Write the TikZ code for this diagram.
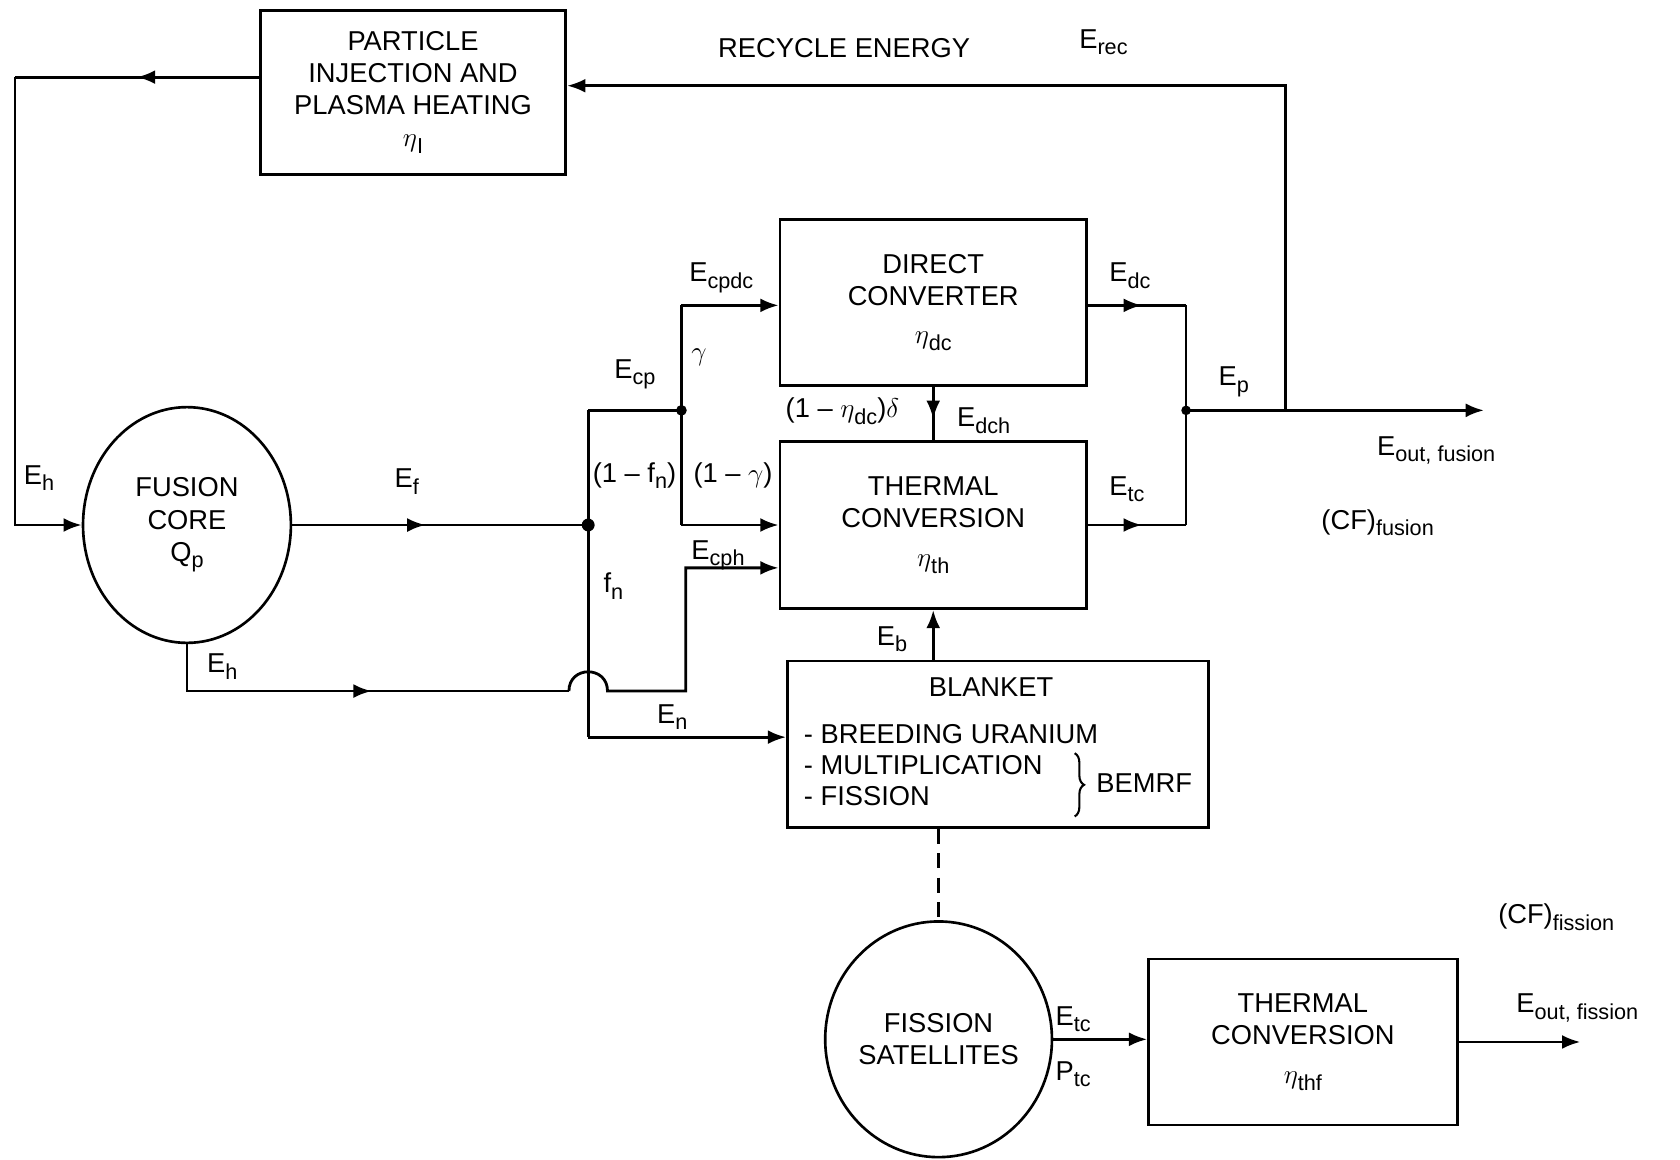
\documentclass[tikz,border=0pt]{standalone}
\usepackage{fontspec}
\setmainfont{Liberation Sans}
\usetikzlibrary{shapes.geometric,arrows.meta,decorations.markings,decorations.pathreplacing}
\newcommand\lsub[1]{\raisebox{-3.5pt}{\fontsize{11.5}{12}\selectfont #1}}
\begin{document}
\begin{tikzpicture}[x=0.2mm,y=-0.2mm,
  every node/.style={font=\fontsize{14.5}{17}\selectfont, inner sep=0pt},
  ln/.style={line width=1.5pt},
  box/.style={draw, line width=1.5pt, rectangle, align=center},
  ell/.style={draw, line width=1.4pt, ellipse, align=center},
  lab/.style={anchor=base west},
  tip/.style={-{Latex[length=3.4mm,width=2.6mm]}},
  marr/.style={postaction={decorate},decoration={markings,mark=at position #1 with {\arrow{Latex[length=3.4mm,width=2.6mm]}}}}
]
\useasboundingbox (0,0) rectangle (1568,1082);
\fill[white] (0,0) rectangle (1568,1082);

% boxes
\node[box, minimum width=57mm, minimum height=30.6mm] (pih) at (385.5,86.5) {PARTICLE\\INJECTION AND\\PLASMA HEATING\\$\eta$\lsub{I}};
\node[ell, minimum width=38.8mm, minimum height=44mm] (fc) at (174.5,490) {FUSION\\CORE\\Q\lsub{p}};
\node[box, minimum width=57.2mm, minimum height=31mm] (dc) at (871,282.5) {DIRECT\\CONVERTER\\[3pt]$\eta$\lsub{dc}};
\node[box, minimum width=57.2mm, minimum height=31.2mm] (tc) at (871,490) {THERMAL\\CONVERSION\\[4pt]$\eta$\lsub{th}};
\node[box, minimum width=78.6mm, minimum height=31mm] (bl) at (931.5,694.5) {};
\node (blt) at (925,641) {BLANKET};
\node[anchor=west] (bl1) at (750,685) {- BREEDING URANIUM};
\node[anchor=west] (bl2) at (750,714) {- MULTIPLICATION};
\node[anchor=west] (bl3) at (750,743) {- FISSION};
\draw[decorate, decoration={brace,amplitude=5pt}, line width=1.1pt] (1003,703) -- (1003,762);
\node[lab] (bemrf) at (1023,740) {BEMRF};
\node[ell, minimum width=36.8mm, minimum height=44mm] (fs) at (876,970) {FISSION\\SATELLITES};
\node[box, minimum width=57.6mm, minimum height=31mm] (tc2) at (1216,972.5) {THERMAL\\CONVERSION\\[4pt]$\eta$\lsub{thf}};

% coordinates
\coordinate (lt) at (14,72);
\coordinate (lb) at (14,490);
\coordinate (rt) at (1200,80);
\coordinate (rb) at (1200,383);
\coordinate (j1) at (549,490);
\coordinate (j1t) at (549,383);
\coordinate (j1b) at (549,688);
\coordinate (j2) at (636,383);
\coordinate (j2t) at (636,285);
\coordinate (j2b) at (636,490);
\coordinate (ehc) at (174.5,645);
\coordinate (hop1) at (531,645);
\coordinate (hop2) at (567,645);
\coordinate (ehr) at (640,645);
\coordinate (ehu) at (640,530);
\coordinate (rj1) at (1107,285);
\coordinate (rj) at (1107,383);
\coordinate (rj2) at (1107,490);
\coordinate (eo1) at (1385,383);
\coordinate (eo2) at (1475,972.5);

% connectors
\draw[ln,tip] (rb) -- (rt) -- (rt -| pih.east);
\draw[ln,marr=0.5] (lt -| pih.west) -- (lt);
\draw[ln,tip] (lt) -- (lb) -- (fc.west);
\draw[ln,marr=0.45] (fc.east) -- (j1);
\draw[ln] (j1t) -- (j1b);
\draw[ln] (j1t) -- (j2);
\draw[ln] (j2t) -- (j2b);
\draw[ln,tip] (j2t) -- (j2t -| dc.west);
\draw[ln,tip] (j2b) -- (j2b -| tc.west);
\draw[ln,marr=0.54] (fc.south) -- (ehc) -- (hop1);
\draw[ln,tip] (hop1) .. controls (531,621) and (567,621) .. (hop2) -- (ehr) -- (ehu) -- (ehu -| tc.west);
\draw[ln,tip] (j1b) -- (j1b -| bl.west);
\draw[ln,marr=0.6] (dc.south) -- (tc.north);
\draw[ln,tip] (bl.north -| tc.south) -- (tc.south);
\draw[ln,marr=0.55] (dc.east |- rj1) -- (rj1);
\draw[ln] (rj1) -- (rj2);
\draw[ln,marr=0.55] (tc.east) -- (rj2);
\draw[ln,tip] (rj) -- (eo1);
\draw[ln,dash pattern=on 8pt off 5pt] (fs.north |- bl.south) -- (fs.north);
\draw[ln,tip] (fs.east) -- (fs.east -| tc2.west);
\draw[ln,tip] (tc2.east) -- (eo2);
\fill (j1) circle[radius=1.2mm];
\fill (j2) circle[radius=1mm];
\fill (rj) circle[radius=0.9mm];

% labels
\node[lab] (lre) at (670,54) {RECYCLE ENERGY};
\node[lab] (lrec) at (1007,45) {E\lsub{rec}};
\node[lab] (leh1) at (22,452) {E\lsub{h}};
\node[lab] (lef) at (368,455) {E\lsub{f}};
\node[lab] (lecp) at (573,353) {E\lsub{cp}};
\node[lab] (lecpdc) at (643,263) {E\lsub{cpdc}};
\node[lab] (lgam) at (645,336) {$\gamma$};
\node[lab] (l1fn) at (553,450) {(1 – f\lsub{n})};
\node[lab] (l1g) at (647,450) {(1 – $\gamma$)};
\node[lab] (lecph) at (645,522) {E\lsub{cph}};
\node[lab] (lfn) at (563,553) {f\lsub{n}};
\node[lab] (leh2) at (193,628) {E\lsub{h}};
\node[lab] (len) at (613,675) {E\lsub{n}};
\node[lab] (ldel) at (733,390) {(1 – $\eta$\lsub{dc})$\delta$};
\node[lab] (ledch) at (893,398) {E\lsub{dch}};
\node[lab] (ledc) at (1035,263) {E\lsub{dc}};
\node[lab] (lep) at (1137,360) {E\lsub{p}};
\node[lab] (letc) at (1035,462) {E\lsub{tc}};
\node[lab] (leof) at (1285,425) {E\lsub{out, fusion}};
\node[lab] (lcff) at (1233,494) {(CF)\lsub{fusion}};
\node[lab] (leb) at (818,602) {E\lsub{b}};
\node[lab] (letc2) at (985,957) {E\lsub{tc}};
\node[lab] (lptc) at (985,1008) {P\lsub{tc}};
\node[lab] (lcffi) at (1398,862) {(CF)\lsub{fission}};
\node[lab] (leofi) at (1415,945) {E\lsub{out, fission}};
\end{tikzpicture}
\end{document}
